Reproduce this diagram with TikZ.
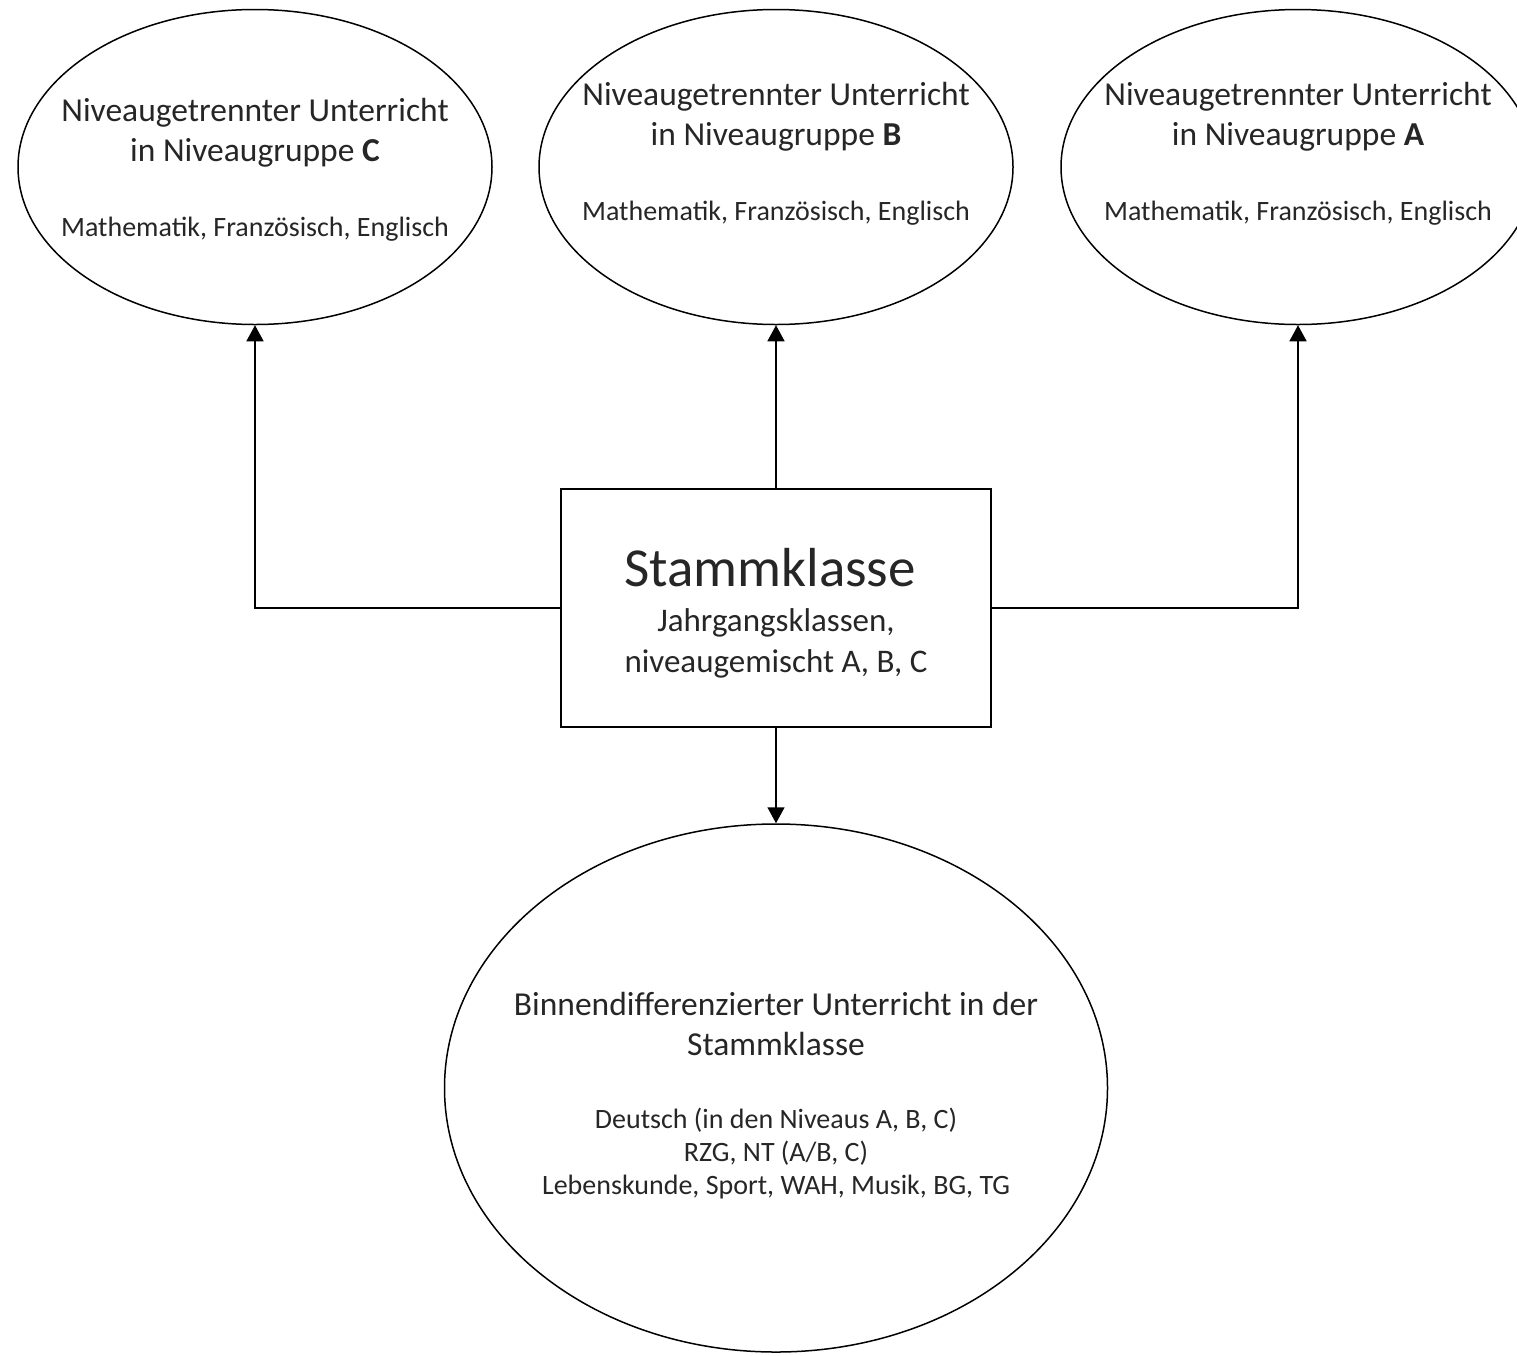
\documentclass[tikz,border=0pt]{standalone}
\usepackage{fontspec}
\setmainfont{Carlito}
\usetikzlibrary{shapes.geometric,positioning,arrows.meta}

\begin{document}
\begin{tikzpicture}[x=1pt, y=-1pt,
        niveau/.style={ellipse, draw, line width=1.5pt, minimum width=474pt, minimum height=315pt, inner sep=0pt},
        klasse/.style={rectangle, draw, line width=1.5pt, minimum width=430pt, minimum height=238pt, inner sep=0pt},
        titel/.style={align=center, inner sep=0pt, anchor=base, text=black!85, font=\fontsize{33.5}{40}\selectfont},
        faecher/.style={align=center, inner sep=0pt, anchor=base, text=black!85, font=\fontsize{28}{33}\selectfont},
        arrow/.style={-{Triangle[width=17pt, length=16pt]}, line width=1.5pt}
    ]
        \useasboundingbox (0,0) rectangle (1517,1355);

        \node[niveau] (C) at (255,167) {};
        \node[niveau] (B) at (776,167) {};
        \node[niveau] (A) at (1298,167) {};
        \node[klasse] (S) at (776,608) {};
        \node[ellipse, draw, line width=1.5pt, minimum width=663pt, minimum height=528pt, inner sep=0pt] (D) at (776,1088) {};

        % base anchor sits on the last line
        \node[titel] (tC) at (255,161) {Niveaugetrennter Unterricht\\in Niveaugruppe \textbf{C}};
        \node[faecher] (fC) at (255,236) {Mathematik, Französisch, Englisch};
        \node[titel] (tB) at (776,145) {Niveaugetrennter Unterricht\\in Niveaugruppe \textbf{B}};
        \node[faecher] (fB) at (776,220) {Mathematik, Französisch, Englisch};
        \node[titel] (tA) at (1298,145) {Niveaugetrennter Unterricht\\in Niveaugruppe \textbf{A}};
        \node[faecher] (fA) at (1298,220) {Mathematik, Französisch, Englisch};

        \node[titel, font=\fontsize{55}{60}\selectfont] (tS) at (770,586) {Stammklasse};
        \node[titel, font=\fontsize{33}{41}\selectfont] (uS) at (776,672) {Jahrgangsklassen,\\niveaugemischt A, B, C};

        \node[titel] (tD) at (776,1055) {Binnendifferenzierter Unterricht in der\\Stammklasse};
        \node[faecher] (fD) at (776,1194) {Deutsch (in den Niveaus A, B, C)\\RZG, NT (A/B, C)\\Lebenskunde, Sport, WAH, Musik, BG, TG};

        \draw[arrow] (S.west) -| (C.south);
        \draw[arrow] (S.north) -- (B.south);
        \draw[arrow] (S.east) -| (A.south);
        \draw[arrow] (S.south) -- (D.north);
    \end{tikzpicture}
\end{document}
